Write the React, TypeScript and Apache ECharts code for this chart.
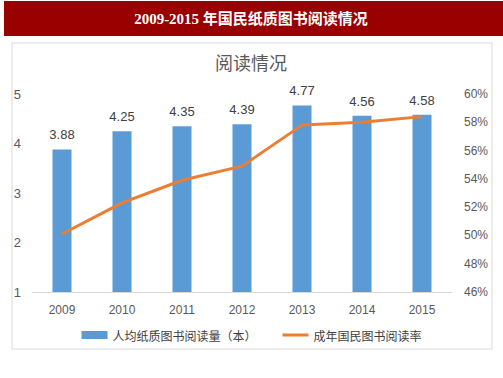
import React, { useEffect, useRef } from "react";
import * as echarts from "echarts";

const title = "2009-2015 年国民纸质图书阅读情况";
const subtitle = "阅读情况";
const categories = ["2009", "2010", "2011", "2012", "2013", "2014", "2015"];
const booksPerCapita = [3.88, 4.25, 4.35, 4.39, 4.77, 4.56, 4.58];
const readingRate = [50.1, 52.3, 53.9, 54.9, 57.8, 58.0, 58.4];
const barName = "人均纸质图书阅读量（本）";
const lineName = "成年国民图书阅读率";

export default function App() {
  const ref = useRef<HTMLDivElement>(null);
  useEffect(() => {
    const chart = echarts.init(ref.current!, undefined, { renderer: "svg" });
    chart.setOption({
      animation: false,
      backgroundColor: "#ffffff",
      graphic: [
        {
          type: "rect",
          z: 0,
          shape: { x: 4, y: 1, width: 499, height: 35 },
          style: { fill: "#990000" },
        },
        {
          type: "text",
          z: 1,
          x: 251,
          y: 19,
          style: {
            text: title,
            fill: "#ffffff",
            font: "bold 15px 'Liberation Serif', 'Noto Sans CJK SC'",
            align: "center",
            verticalAlign: "middle",
          },
        },
        {
          type: "rect",
          z: 0,
          shape: { x: 12, y: 43, width: 480, height: 306 },
          style: { fill: "#ffffff", stroke: "#d9d9d9", lineWidth: 1 },
        },
        {
          type: "text",
          z: 1,
          x: 251,
          y: 62,
          style: {
            text: subtitle,
            fill: "#595959",
            font: "18px 'Noto Sans CJK SC'",
            align: "center",
            verticalAlign: "middle",
          },
        },
      ],
      grid: { left: 32, right: 51, top: 94, bottom: 86 },
      legend: {
        bottom: 32,
        left: "center",
        itemGap: 26,
        itemWidth: 26,
        itemHeight: 8,
        textStyle: { color: "#404040", fontSize: 12, fontFamily: "'Noto Sans CJK SC'" },
        data: [
          { name: barName, icon: "rect" },
          { name: lineName, icon: "path://M0,0 H26 V3 H0 Z", itemStyle: { color: "#ED7D31" } },
        ],
      },
      xAxis: {
        type: "category",
        data: categories,
        axisLine: { lineStyle: { color: "#d9d9d9" } },
        axisTick: { show: false },
        axisLabel: { color: "#595959", fontSize: 12, fontFamily: "'Liberation Sans'", margin: 12 },
      },
      yAxis: [
        {
          type: "value",
          min: 1,
          max: 5,
          interval: 1,
          splitLine: { show: false },
          axisLine: { show: false },
          axisLabel: { color: "#595959", fontSize: 13, fontFamily: "'Liberation Sans'", margin: 11 },
        },
        {
          type: "value",
          min: 46,
          max: 60,
          interval: 2,
          splitLine: { show: false },
          axisLine: { show: false },
          axisLabel: {
            color: "#595959",
            fontSize: 12,
            fontFamily: "'Liberation Sans'",
            margin: 12,
            formatter: "{value}%",
          },
        },
      ],
      series: [
        {
          name: barName,
          type: "bar",
          data: booksPerCapita,
          barWidth: 19,
          itemStyle: { color: "#5B9BD5" },
          label: {
            show: true,
            position: "top",
            distance: 8,
            color: "#404040",
            fontSize: 13,
            fontFamily: "'Liberation Sans'",
          },
        },
        {
          name: lineName,
          type: "line",
          yAxisIndex: 1,
          data: readingRate,
          symbol: "none",
          lineStyle: { color: "#ED7D31", width: 3 },
          itemStyle: { color: "#ED7D31" },
        },
      ],
    });
    return () => chart.dispose();
  }, []);
  return (
    <div
      ref={ref}
      style={{ position: "fixed", left: 0, top: 0, width: 503, height: 378 }}
    />
  );
}
